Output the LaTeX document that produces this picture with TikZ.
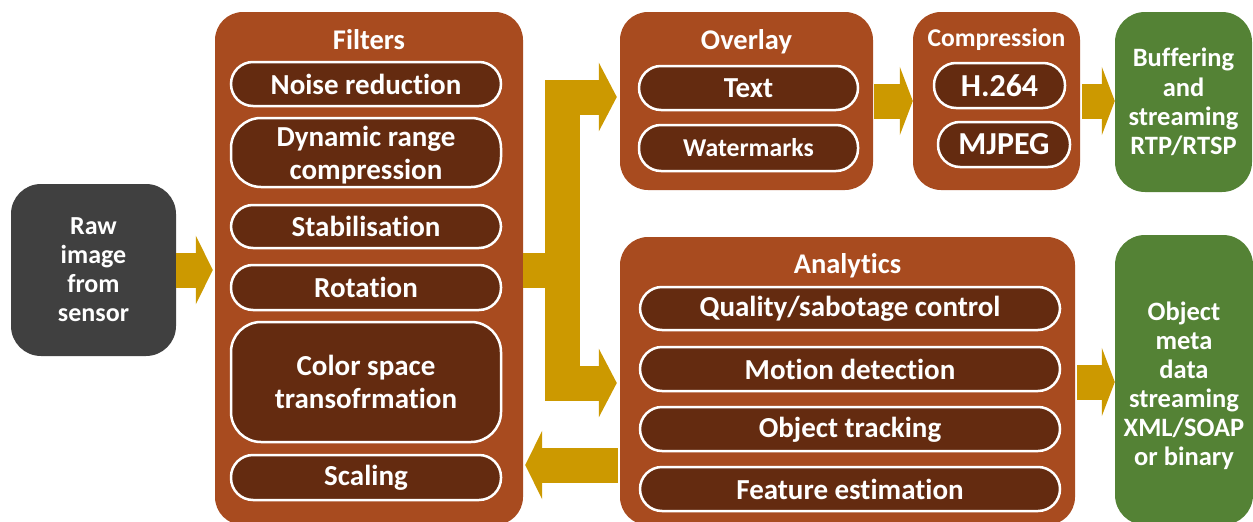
\documentclass[tikz,border=0pt]{standalone}
\usepackage{fontspec}
\setmainfont{Carlito}[Ligatures={NoCommon}]
\usetikzlibrary{arrows.meta}
\definecolor{boxbrown}{HTML}{A84B1F}
\definecolor{pillbrown}{HTML}{642B10}
\definecolor{gold}{HTML}{CC9900}
\definecolor{outgreen}{HTML}{548235}
\definecolor{rawgray}{HTML}{404040}
\begin{document}
\begin{tikzpicture}[x=1pt,y=-1pt,
  blk/.style={rounded corners=28pt, fill=boxbrown, inner sep=0pt},
  greenbox/.style={rounded corners=30pt, fill=outgreen, inner sep=0pt, text=white, align=center,
    font=\fontsize{26.5}{29.3}\selectfont\bfseries},
  bodytext/.style={text=white, align=center, inner sep=0pt,
    font=\fontsize{26.5}{29}\selectfont\bfseries},
  rawbox/.style={rounded corners=30pt, fill=rawgray, inner sep=0pt, text=white, align=center,
    font=\fontsize{26}{29}\selectfont\bfseries},
  pill/.style={rounded corners=22pt, fill=pillbrown, draw=white, line width=2.5pt, text=white,
    align=center, inner sep=0pt, font=\fontsize{29}{33}\selectfont\bfseries},
  bigpill/.style={pill, rounded corners=30pt},
  title/.style={text=white, inner sep=0pt, font=\fontsize{28.5}{34}\selectfont\bfseries},
  barrow/.style={draw=gold, line width=35pt, -{Triangle[length=17pt,width=68pt]}},
  sarrow/.style={draw=gold, line width=35pt, -{Triangle[length=13pt,width=68pt]}},
  dblarrow/.style={draw=gold, line width=35pt, line join=miter,
    {Triangle[length=18pt,width=68pt]}-{Triangle[length=18pt,width=68pt]}},
  bar/.style={draw=gold, line width=35pt}
]
\useasboundingbox (0,0) rectangle (1253,522);

% Source
\node[rawbox, minimum width=165pt, minimum height=172pt] (raw) at (93.5,270)
  {Raw\\image\\from\\sensor};

% Filters
\node[blk, minimum width=308pt, minimum height=513pt] (filters) at (369,268.5) {};
\node[title] (filtersT) at (369,40) {Filters};
\node[pill, minimum width=270pt, minimum height=44pt] (noise) at (366,84) {Noise reduction};
\node[bigpill, minimum width=270pt, minimum height=69pt] (drc) at (366,152.5) {\rule{0pt}{26pt}Dynamic range\\compression};
\node[pill, minimum width=270pt, minimum height=43pt] (stab) at (366,226.5) {Stabilisation};
\node[pill, minimum width=270pt, minimum height=45pt] (rot) at (366,287.5) {Rotation};
\node[bigpill, minimum width=270pt, minimum height=120pt] (csp) at (366,382) {Color space\\transofrmation};
\node[pill, minimum width=270pt, minimum height=45pt] (scal) at (366,477.5) {Scaling};

% Overlay
\node[blk, minimum width=253pt, minimum height=178pt] (overlay) at (746.5,101) {};
\node[title] (overlayT) at (746.5,42) {Overlay};
\node[pill, minimum width=219pt, minimum height=44pt] (txt) at (748.5,88) {Text};
\node[pill, minimum width=219pt, minimum height=46pt, font=\fontsize{25.7}{30}\selectfont\bfseries]
  (wm) at (748.5,148) {Watermarks};

% Compression
\node[blk, minimum width=167pt, minimum height=178pt] (comp) at (996.5,101) {};
\node[title, font=\fontsize{25.6}{30}\selectfont\bfseries] (compT) at (996.5,39.5) {Compression};
\node[pill, minimum width=131pt, minimum height=45pt, font=\fontsize{32}{36}\selectfont\bfseries]
  (h264) at (999.5,85.5) {H.264};
\node[pill, minimum width=132pt, minimum height=45pt, font=\fontsize{32}{36}\selectfont\bfseries]
  (mjpeg) at (1004,144.5) {MJPEG};

% Buffering
\node[greenbox, minimum width=137pt, minimum height=180pt] (buf) at (1183.5,102)
  {Buffering\\and\\streaming\\RTP/RTSP};

% Analytics
\node[blk, minimum width=455pt, minimum height=288pt] (analytics) at (847.5,381) {};
\node[title] (analyticsT) at (847.5,266) {Analytics};
\node[pill, minimum width=420pt, minimum height=43pt] (qual) at (850,308.5) {Quality/sabotage control};
\node[pill, minimum width=420pt, minimum height=44pt] (mot) at (850,369) {Motion detection};
\node[pill, minimum width=420pt, minimum height=44pt] (track) at (850,429) {\rule{0pt}{21pt}Object tracking};
\node[pill, minimum width=420pt, minimum height=44pt] (feat) at (850,489) {Feature estimation};

% Object meta data
\node[rounded corners=30pt, fill=outgreen, inner sep=0pt, minimum width=138pt, minimum height=290pt]
  (obj) at (1184,380) {};
\node[bodytext] (objT) at (1184,385.5)
  {Object\\meta\\data\\streaming\\XML/SOAP\\or binary};

% Connectors
\draw[barrow, shorten >=2pt] (raw.east) -- (raw.east -| filters.west);

\coordinate (split) at (562.5,270);
\coordinate (jt) at (562.5,97);
\coordinate (jb) at (562.5,383);
\draw[bar] (filters.east |- split) -- (split);
\draw[dblarrow, shorten <=3pt, shorten >=3pt] (jt -| overlay.west) -- (jt) -- (jb) -- (jb -| analytics.west);

\coordinate (back) at (580,465);
\draw[barrow, shorten <=2pt, shorten >=2pt] (back -| analytics.west) -- (back -| filters.east);

\draw[sarrow, shorten <=1pt] (overlay.east) -- (overlay.east -| comp.west);
\draw[sarrow, shorten <=2pt] (comp.east) -- (comp.east -| buf.west);
\coordinate (ao) at (1100,382);
\draw[sarrow, shorten <=2pt] (ao -| analytics.east) -- (ao -| obj.west);
\end{tikzpicture}
\end{document}
